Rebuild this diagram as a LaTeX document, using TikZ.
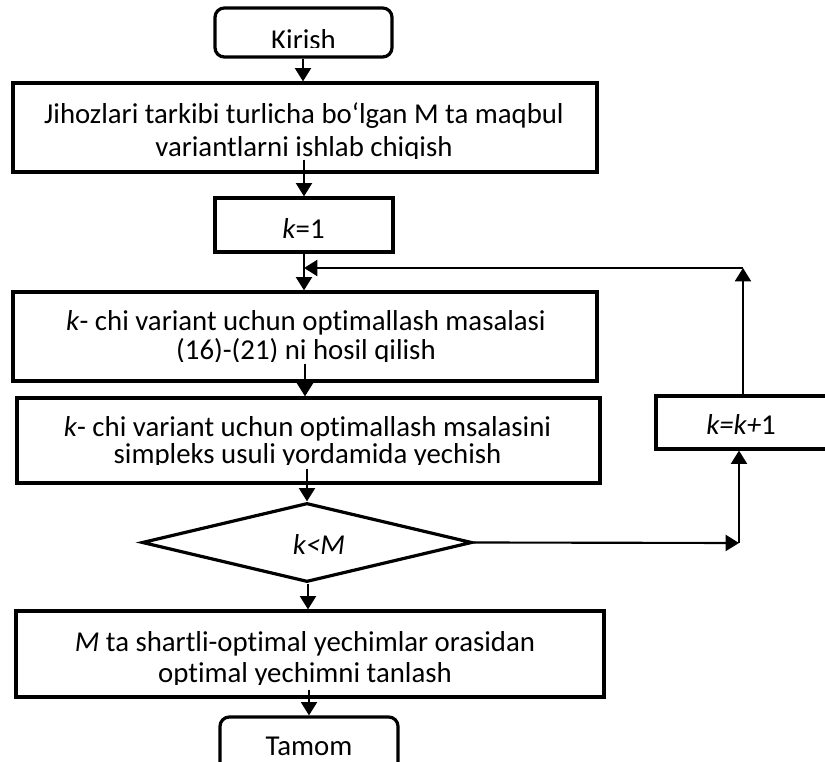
\documentclass[tikz,border=0pt]{standalone}
\usepackage{fontspec}
\setmainfont[Ligatures={NoCommon}]{Carlito}
\usetikzlibrary{arrows.meta,shapes.geometric,calc}
\begin{document}
\begin{tikzpicture}[x=0.75pt,y=-0.75pt,
  box/.style={draw,line width=2.4pt,inner sep=0pt,fill=none},
  rbox/.style={box,rounded corners=7pt},
  txt/.style={anchor=base,inner sep=0pt,font=\fontsize{21.6pt}{25pt}\selectfont},
  arr/.style={line width=1.6pt,-{Triangle[width=12pt,length=10pt]}},
  ]
\useasboundingbox (0,0) rectangle (825,762);
\clip (0,0) rectangle (825,762);

% boxes
\node[rbox,minimum width=132.75pt,minimum height=36.75pt] (kir) at (303.5,32.5) {};
\node[box,minimum width=438pt,minimum height=66.75pt] (b1) at (305,127.5) {};
\node[box,minimum width=133.5pt,minimum height=40.5pt] (k1) at (304,225) {};
\node[box,minimum width=438pt,minimum height=66.75pt] (b2) at (305,336.5) {};
\node[box,minimum width=437.25pt,minimum height=63.75pt] (b3) at (308.5,440.5) {};
\node[draw,diamond,line width=2.4pt,inner sep=0pt,minimum width=247.5pt,minimum height=59.25pt] (dia) at (307,542.5) {};
\node[box,minimum width=441pt,minimum height=64.5pt] (b4) at (310,654) {};
\node[rbox,minimum width=133.5pt,minimum height=54.75pt] (tam) at (309,753.5) {};
\node[box,minimum width=138pt,minimum height=39.75pt] (kk) at (748,422.5) {};

% texts (clipped like the original text frames)
\begin{scope}
\clip (217,10) rectangle (390,47.5);
\node[txt] (tkir) at (303.5,50) {Kirish};
\end{scope}
\begin{scope}
\clip (15,85) rectangle (595,159);
\node[txt] (t1a) at (304,124) {Jihozlari tarkibi turlicha bo‘lgan M ta maqbul};
\node[txt] (t1b) at (304,157) {variantlarni ishlab chiqish};
\end{scope}
\node[txt] (tk1) at (303.5,239) {\textit{k}=1};
\begin{scope}
\clip (15,294) rectangle (595,362);
\node[txt] (t2a) at (306,331) {\textit{k}- chi variant uchun optimallash masalasi};
\node[txt] (t2b) at (306,360) {(16)-(21) ni hosil qilish};
\end{scope}
\begin{scope}
\clip (19,400) rectangle (598,465);
\node[txt] (t3a) at (307.5,437) {\textit{k}- chi variant uchun optimallash msalasini};
\node[txt] (t3b) at (307.5,464) {simpleks usuli yordamida yechish};
\end{scope}
\node[txt] (tdia) at (319,555) {\textit{k<M}};
\begin{scope}
\clip (18,613) rectangle (602,684);
\node[txt] (t4a) at (305,652) {\textit{M} ta shartli-optimal yechimlar orasidan};
\node[txt] (t4b) at (305,682) {optimal yechimni tanlash};
\end{scope}
\node[txt] (ttam) at (309,755) {Tamom};
\node[txt] (tkk) at (741,435) {\textit{k=k+}1};

% x positions of the main line
\coordinate (x303) at (303,0);
\coordinate (x304) at (304,0);
\coordinate (x305) at (305,0);
\coordinate (x307) at (307,0);
\coordinate (x308) at (308,0);
\coordinate (x309) at (309,0);
\coordinate (c1) at (739,543);
\coordinate (c2) at (743,268);

% connectors
\draw[arr] (kir.south -| x303) -- (b1.north -| x303);
\draw[arr] ($(b1.south -| x304)+(0,-14)$) -- (k1.north -| x304);
\draw[arr] (k1.south -| x304) -- (b2.north -| x304);
\draw[arr] ($(b2.south -| x305)+(0,-19)$) -- (b3.north -| x305);
\draw[arr] ($(b3.south -| x307)+(0,-16)$) -- (dia.north);
\draw[arr] (dia.south -| x308) -- (b4.north -| x308);
\draw[arr] ($(b4.south -| x309)+(0,-9)$) -- (tam.north -| x309);
\draw[arr] (dia.east) -- (c1);
\draw[arr] (c1) -- (kk.south -| c1);
\draw[arr] (kk.north -| c2) -- (c2);
\draw[arr] (c2) -- (c2 -| x304);
\end{tikzpicture}
\end{document}
